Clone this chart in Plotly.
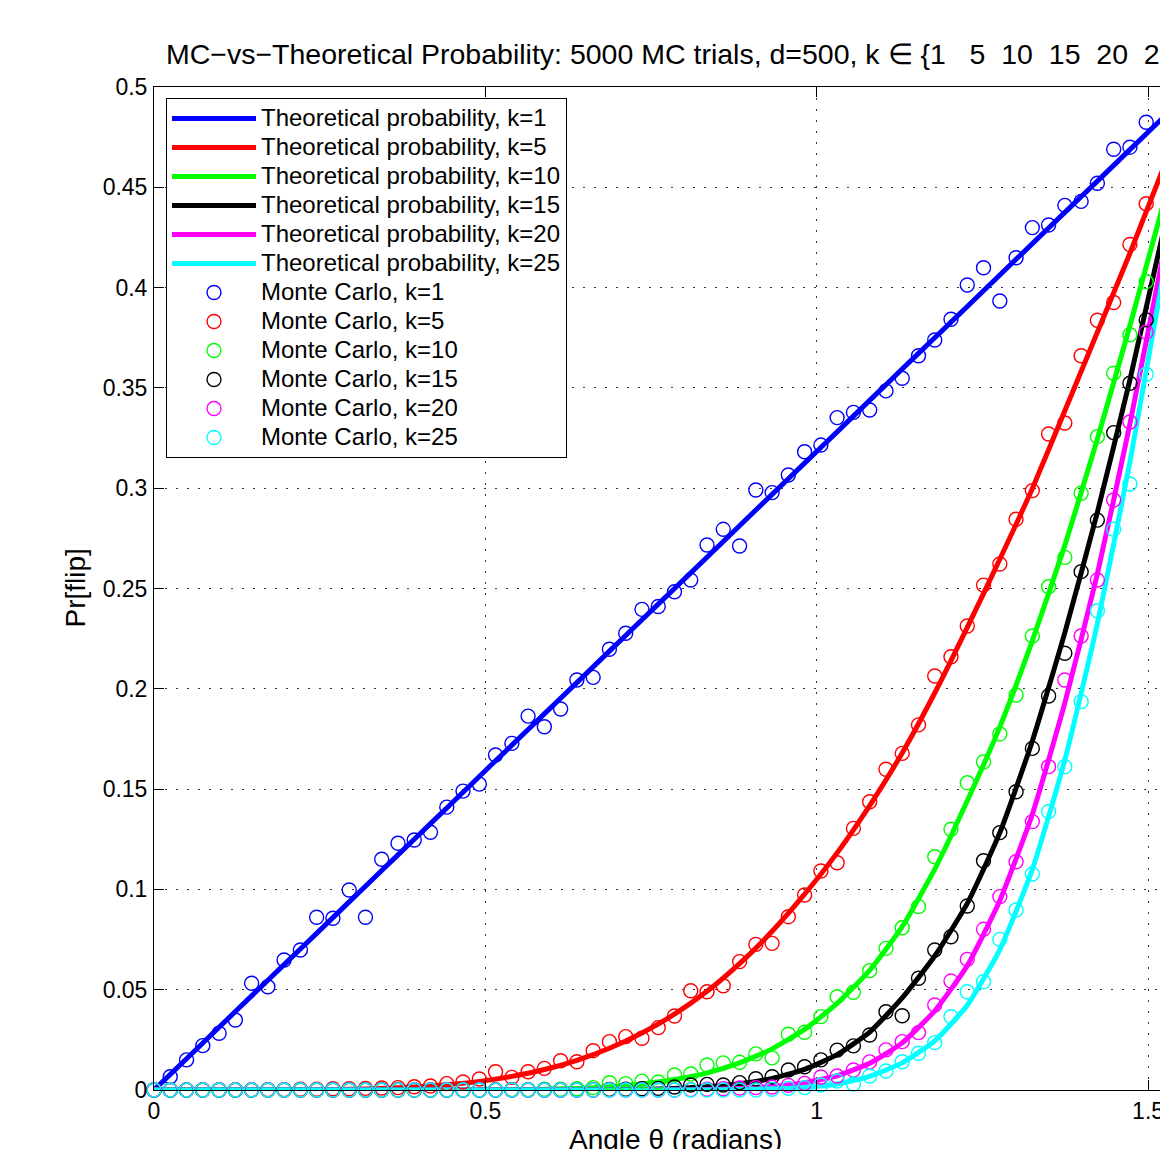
import plotly.graph_objects as go

# ---------------- data ----------------
theta_mc = [0.0000, 0.0245, 0.0491, 0.0736, 0.0982, 0.1227, 0.1473, 0.1718, 0.1963, 0.2209,
            0.2454, 0.2700, 0.2945, 0.3191, 0.3436, 0.3682, 0.3927, 0.4172, 0.4418, 0.4663,
            0.4909, 0.5154, 0.5400, 0.5645, 0.5890, 0.6136, 0.6381, 0.6627, 0.6872, 0.7118,
            0.7363, 0.7609, 0.7854, 0.8099, 0.8345, 0.8590, 0.8836, 0.9081, 0.9327, 0.9572,
            0.9817, 1.0063, 1.0308, 1.0554, 1.0799, 1.1045, 1.1290, 1.1536, 1.1781, 1.2026,
            1.2272, 1.2517, 1.2763, 1.3008, 1.3254, 1.3499, 1.3744, 1.3990, 1.4235, 1.4481,
            1.4726, 1.4972, 1.5217]

mc_k1 = [0.0, 0.0066, 0.0150, 0.0221, 0.0283, 0.0349, 0.0532, 0.0515, 0.0648, 0.0698,
         0.0861, 0.0856, 0.0997, 0.0861, 0.1150, 0.1230, 0.1246, 0.1285, 0.1410, 0.1490,
         0.1525, 0.1670, 0.1728, 0.1864, 0.1811, 0.1899, 0.2044, 0.2057, 0.2197, 0.2277,
         0.2396, 0.2410, 0.2484, 0.2542, 0.2717, 0.2795, 0.2712, 0.2991, 0.2978, 0.3066,
         0.3182, 0.3215, 0.3352, 0.3378, 0.3390, 0.3485, 0.3548, 0.3660, 0.3739, 0.3842,
         0.4013, 0.4099, 0.3933, 0.4149, 0.4299, 0.4312, 0.4410, 0.4430, 0.4520, 0.4690,
         0.4700, 0.4824, 0.4844]

mc_k5 = [0.0, 0.0, 0.0, 0.0, 0.0, 0.0, 0.0, 0.0002, 0.0002, 0.0004,
         0.0004, 0.0006, 0.0006, 0.0008, 0.0010, 0.0012, 0.0016, 0.0020, 0.0032, 0.0040,
         0.0055, 0.0091, 0.0063, 0.0091, 0.0108, 0.0146, 0.0141, 0.0196, 0.0241, 0.0266,
         0.0258, 0.0311, 0.0369, 0.0495, 0.0490, 0.0520, 0.0640, 0.0726, 0.0731, 0.0864,
         0.0972, 0.1092, 0.1133, 0.1304, 0.1437, 0.1599, 0.1678, 0.1820, 0.2064, 0.2160,
         0.2313, 0.2517, 0.2622, 0.2845, 0.2988, 0.3270, 0.3325, 0.3660, 0.3837, 0.3926,
         0.4215, 0.4418, 0.4570]

mc_k10 = [0.0, 0.0, 0.0, 0.0, 0.0, 0.0, 0.0, 0.0, 0.0, 0.0,
          0.0, 0.0, 0.0, 0.0, 0.0, 0.0, 0.0, 0.0, 0.0, 0.0,
          0.0, 0.0, 0.0002, 0.0002, 0.0004, 0.0004, 0.0006, 0.0012, 0.0036, 0.0032,
          0.0044, 0.0040, 0.0075, 0.0080, 0.0125, 0.0135, 0.0138, 0.0180, 0.0160, 0.0278,
          0.0288, 0.0366, 0.0465, 0.0487, 0.0595, 0.0706, 0.0809, 0.0914, 0.1163, 0.1300,
          0.1532, 0.1635, 0.1775, 0.1969, 0.2263, 0.2509, 0.2655, 0.2975, 0.3257, 0.3573,
          0.3765, 0.4030, 0.4466]

mc_k15 = [0.0, 0.0, 0.0, 0.0, 0.0, 0.0, 0.0, 0.0, 0.0, 0.0,
          0.0, 0.0, 0.0, 0.0, 0.0, 0.0, 0.0, 0.0, 0.0, 0.0,
          0.0, 0.0, 0.0, 0.0, 0.0, 0.0, 0.0, 0.0, 0.0003, 0.0004,
          0.0006, 0.0008, 0.0015, 0.0025, 0.0028, 0.0025, 0.0037, 0.0056, 0.0066, 0.0100,
          0.0116, 0.0150, 0.0199, 0.0220, 0.0274, 0.0390, 0.0370, 0.0557, 0.0698, 0.0764,
          0.0917, 0.1143, 0.1283, 0.1487, 0.1703, 0.1964, 0.2177, 0.2584, 0.2841, 0.3277,
          0.3523, 0.3839, 0.4240]

mc_k20 = [0.0, 0.0, 0.0, 0.0, 0.0, 0.0, 0.0, 0.0, 0.0, 0.0,
          0.0, 0.0, 0.0, 0.0, 0.0, 0.0, 0.0, 0.0, 0.0, 0.0,
          0.0, 0.0, 0.0, 0.0, 0.0, 0.0, 0.0, 0.0, 0.0, 0.0,
          0.0, 0.0, 0.0, 0.0002, 0.0004, 0.0006, 0.0010, 0.0012, 0.0015, 0.0023,
          0.0033, 0.0065, 0.0070, 0.0100, 0.0140, 0.0200, 0.0241, 0.0286, 0.0424, 0.0543,
          0.0651, 0.0801, 0.0964, 0.1138, 0.1338, 0.1612, 0.2044, 0.2263, 0.2542, 0.2941,
          0.3330, 0.3778, 0.4080]

mc_k25 = [0.0, 0.0, 0.0, 0.0, 0.0, 0.0, 0.0, 0.0, 0.0, 0.0,
          0.0, 0.0, 0.0, 0.0, 0.0, 0.0, 0.0, 0.0, 0.0, 0.0,
          0.0, 0.0, 0.0, 0.0, 0.0, 0.0, 0.0, 0.0, 0.0, 0.0,
          0.0, 0.0, 0.0, 0.0, 0.0, 0.0, 0.0, 0.0, 0.0004, 0.0008,
          0.0012, 0.0025, 0.0045, 0.0030, 0.0070, 0.0095, 0.0141, 0.0183, 0.0236, 0.0365,
          0.0490, 0.0540, 0.0751, 0.0897, 0.1077, 0.1388, 0.1612, 0.1936, 0.2389, 0.2795,
          0.3021, 0.3568, 0.4146]

# theoretical curves, sampled on every second MC angle
theta_th = theta_mc[::2]

th_k1 = [0.0, 0.0156, 0.0313, 0.0469, 0.0625, 0.0781, 0.0938, 0.1094, 0.1250, 0.1406,
         0.1563, 0.1719, 0.1875, 0.2031, 0.2188, 0.2344, 0.2500, 0.2656, 0.2813, 0.2969,
         0.3125, 0.3281, 0.3438, 0.3594, 0.3750, 0.3906, 0.4063, 0.4219, 0.4375, 0.4531,
         0.4688, 0.4844]

th_k5 = [0.0, 0.0, 0.0, 0.00001, 0.00005, 0.00015, 0.00036, 0.00078, 0.00147, 0.0026,
         0.0043, 0.0068, 0.0102, 0.0148, 0.0208, 0.0284, 0.0378, 0.0492, 0.0630, 0.0791,
         0.0976, 0.1182, 0.1418, 0.1680, 0.1979, 0.2306, 0.2646, 0.2999, 0.3386, 0.3777,
         0.4171, 0.4584]

th_k10 = [0.0, 0.0, 0.0, 0.0, 0.0, 0.0, 0.0, 0.0, 0.0, 0.0,
          0.0001, 0.0002, 0.0004, 0.0008, 0.0016, 0.0030, 0.0052, 0.0085, 0.0135, 0.0205,
          0.0302, 0.0432, 0.0596, 0.0814, 0.1101, 0.1442, 0.1810, 0.2240, 0.2715, 0.3245,
          0.3810, 0.4400]

th_k15 = [0.0, 0.0, 0.0, 0.0, 0.0, 0.0, 0.0, 0.0, 0.0, 0.0,
          0.0, 0.0, 0.0, 0.00005, 0.00014, 0.00033, 0.00075, 0.00158, 0.0031, 0.0058,
          0.0103, 0.0176, 0.0289, 0.0459, 0.0668, 0.0930, 0.1283, 0.1740, 0.2280, 0.2880,
          0.3540, 0.4260]

th_k20 = [0.0, 0.0, 0.0, 0.0, 0.0, 0.0, 0.0, 0.0, 0.0, 0.0,
          0.0, 0.0, 0.0, 0.0, 0.0, 0.00004, 0.0001, 0.0003, 0.0008, 0.0017,
          0.0036, 0.0071, 0.0133, 0.0235, 0.0395, 0.0620, 0.0945, 0.1375, 0.1930, 0.2573,
          0.3320, 0.4143]

th_k25 = [0.0, 0.0, 0.0, 0.0, 0.0, 0.0, 0.0, 0.0, 0.0, 0.0,
          0.0, 0.0, 0.0, 0.0, 0.0, 0.0, 0.0, 0.0, 0.0002, 0.0006,
          0.0013, 0.0030, 0.0068, 0.0135, 0.0245, 0.0423, 0.0700, 0.1100, 0.1645, 0.2324,
          0.3130, 0.4040]

k_values = [1, 5, 10, 15, 20, 25]
series_colors = ["#0000ff", "#ff0000", "#00ff00", "#000000", "#ff00ff", "#00ffff"]
theory = [th_k1, th_k5, th_k10, th_k15, th_k20, th_k25]
monte_carlo = [mc_k1, mc_k5, mc_k10, mc_k15, mc_k20, mc_k25]

y_ticks = [0, 0.05, 0.1, 0.15, 0.2, 0.25, 0.3, 0.35, 0.4, 0.45, 0.5]
y_tick_text = ["0", "0.05", "0.1", "0.15", "0.2", "0.25", "0.3", "0.35", "0.4", "0.45", "0.5"]
x_ticks = [0, 0.5, 1, 1.5]
x_tick_text = ["0", "0.5", "1", "1.5"]

FONT = "Liberation Sans, Arial, Helvetica, sans-serif"
NB = "\u00a0"

W, H = 1160, 1149
ML, MT, MB = 154, 87, 59
PW = W - ML          # plot width (px)
PH = H - MT - MB     # plot height (px)

fig = go.Figure()
for k, ys, c in zip(k_values, theory, series_colors):
    fig.add_trace(go.Scatter(
        x=theta_th, y=ys, mode="lines",
        line=dict(color=c, width=5, shape="spline", smoothing=0.5),
        name=f'<span style="font-size:24px">Theoretical probability, k={k}</span>',
        cliponaxis=False,
    ))
for k, ys, c in zip(k_values, monte_carlo, series_colors):
    fig.add_trace(go.Scatter(
        x=theta_mc, y=ys, mode="markers",
        marker=dict(symbol="circle-open", size=14, color=c, line=dict(width=1.4, color=c)),
        name=f'<span style="font-size:24px">Monte Carlo, k={k}</span>',
        cliponaxis=False,
    ))

title_text = ("MC\u2212vs\u2212Theoretical Probability: 5000 MC trials, d=500, k \u2208 {1"
              + NB * 3 + "5" + NB * 2 + "10" + NB * 2 + "15" + NB * 2 + "20" + NB * 2 + "25}")

axis_common = dict(
    ticks="inside", ticklen=10, tickwidth=1, tickcolor="black",
    showline=True, linecolor="black", linewidth=1,
    showgrid=True, gridcolor="#333333", gridwidth=1, griddash="2px,9px",
    zeroline=False, tickfont=dict(family=FONT, size=23, color="black"),
    ticklabeloverflow="allow", automargin=False,
)

fig.update_layout(
    width=W, height=H,
    margin=dict(l=ML, r=0, t=MT, b=MB, autoexpand=False),
    paper_bgcolor="white", plot_bgcolor="white",
    font=dict(family=FONT, color="black"),
    title=dict(text=title_text, x=12 / PW, xref="paper", xanchor="left",
               y=1 - 54 / H, yref="container", yanchor="middle",
               font=dict(family=FONT, size=28.5, color="black")),
    xaxis=dict(range=[0, 1.518], tickvals=x_ticks, ticktext=x_tick_text,
               mirror="ticks", ticklabelstandoff=0, **axis_common),
    yaxis=dict(range=[0, 0.5], tickvals=y_ticks, ticktext=y_tick_text,
               ticklabelstandoff=1, **axis_common),
    showlegend=True,
    legend=dict(x=12 / PW, y=1 - 11 / PH, xanchor="left", yanchor="top",
                bgcolor="white", bordercolor="black", borderwidth=1,
                font=dict(family=FONT, size=20, color="black"),
                itemwidth=84, traceorder="normal"),
    annotations=[
        dict(text="Angle \u03b8 (radians)", xref="paper", yref="paper",
             x=(675 - ML) / PW, y=-32 / PH, xanchor="center", yanchor="top",
             showarrow=False, font=dict(family=FONT, size=28, color="black")),
        dict(text="Pr[flip]", xref="paper", yref="paper", textangle=-90,
             x=-79 / PW, y=0.5, xanchor="center", yanchor="middle",
             showarrow=False, font=dict(family=FONT, size=28, color="black")),
    ],
)

fig.write_html(
    "out.html",
    config={"displayModeBar": False},
    post_script="document.body.style.margin='0';document.body.style.overflow='hidden';",
)
